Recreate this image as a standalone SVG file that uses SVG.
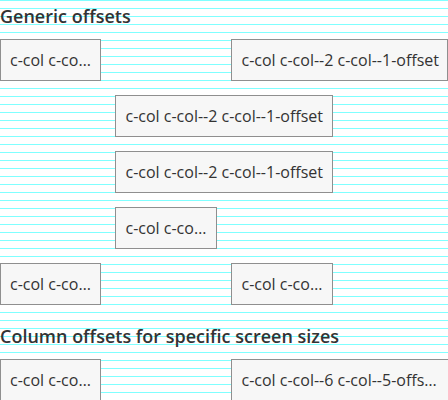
<svg xmlns="http://www.w3.org/2000/svg" width="448" height="400" viewBox="0 0 448 400">
  <defs>
    <!-- 8px baseline grid -->
    <pattern id="baseline" x="0" y="0" width="448" height="8" patternUnits="userSpaceOnUse">
      <rect x="0" y="0" width="448" height="1" fill="#80ffff"/>
    </pattern>
  </defs>
  <style>
    .heading { font-family: "Open Sans", "Noto Sans", sans-serif; font-size: 18px; font-weight: 600; fill: #333; }
    .col rect { fill: #f7f7f7; stroke: #8f8f8f; stroke-width: 1; }
    .col text { font-family: "Open Sans", "Noto Sans", sans-serif; font-size: 16px; fill: #333; }
  </style>

  <rect x="0" y="0" width="448" height="400" fill="#ffffff"/>
  <rect x="0" y="0" width="448" height="400" fill="url(#baseline)"/>

  <text class="heading" x="0" y="22.5">Generic offsets</text>

  <!-- row 1 -->
  <g id="col-1a" class="col">
    <rect x="0.5" y="39.5" width="100" height="41"/>
    <text x="10" y="66">c-col c-co…</text>
  </g>
  <g id="col-1b" class="col">
    <rect x="231.5" y="39.5" width="216" height="41"/>
    <text x="241.5" y="66">c-col c-col--2 c-col--1-offset</text>
  </g>

  <!-- row 2 -->
  <g id="col-2" class="col">
    <rect x="115.5" y="95.5" width="217" height="41"/>
    <text x="125.5" y="122">c-col c-col--2 c-col--1-offset</text>
  </g>

  <!-- row 3 -->
  <g id="col-3" class="col">
    <rect x="115.5" y="151.5" width="217" height="41"/>
    <text x="125.5" y="178">c-col c-col--2 c-col--1-offset</text>
  </g>

  <!-- row 4 -->
  <g id="col-4" class="col">
    <rect x="115.5" y="207.5" width="101" height="41"/>
    <text x="125.5" y="234">c-col c-co…</text>
  </g>

  <!-- row 5 -->
  <g id="col-5a" class="col">
    <rect x="0.5" y="263.5" width="100" height="41"/>
    <text x="10" y="290">c-col c-co…</text>
  </g>
  <g id="col-5b" class="col">
    <rect x="231.5" y="263.5" width="101" height="41"/>
    <text x="241.5" y="290">c-col c-co…</text>
  </g>

  <text class="heading" x="0" y="342.5">Column offsets for specific screen sizes</text>

  <!-- row 6 -->
  <g id="col-6a" class="col">
    <rect x="0.5" y="359.5" width="100" height="41"/>
    <text x="10" y="386">c-col c-co…</text>
  </g>
  <g id="col-6b" class="col">
    <rect x="231.5" y="359.5" width="217" height="41"/>
    <text x="241.5" y="386">c-col c-col--6 c-col--5-offs…</text>
  </g>
</svg>
